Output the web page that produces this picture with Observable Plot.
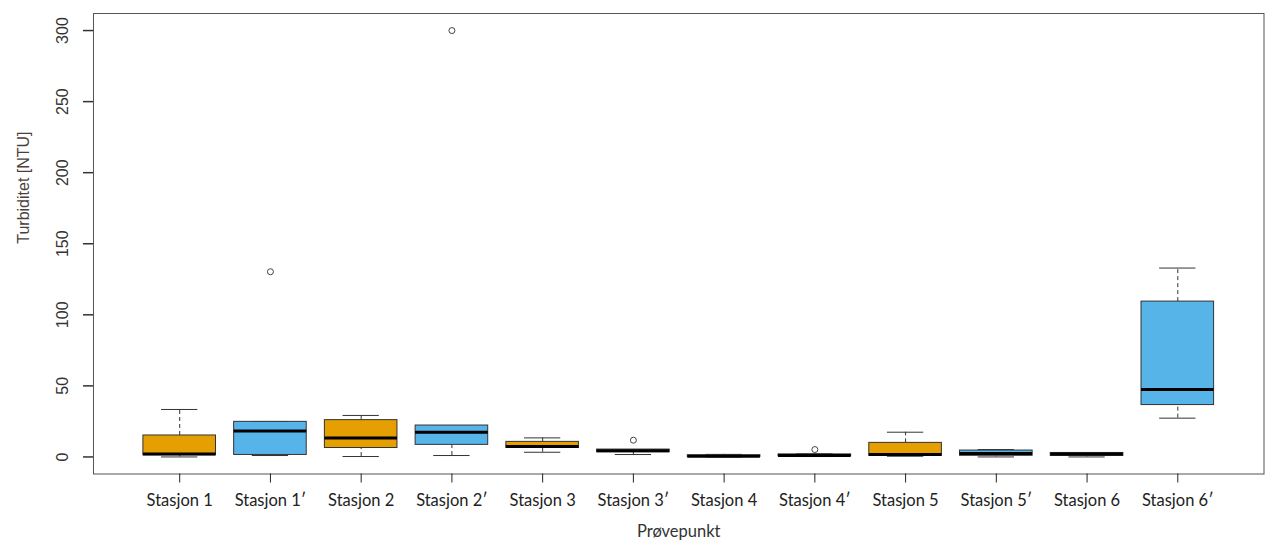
<!DOCTYPE html>
<html><head><meta charset="utf-8">
<script src="https://cdn.jsdelivr.net/npm/d3@7"></script>
<script src="https://cdn.jsdelivr.net/npm/@observablehq/plot@0.6"></script>
<style>body{margin:0;background:#fff}</style>
</head><body><div id="chart"></div>
<script>
const stations = ["Stasjon 1","Stasjon 1′","Stasjon 2","Stasjon 2′","Stasjon 3","Stasjon 3′","Stasjon 4","Stasjon 4′","Stasjon 5","Stasjon 5′","Stasjon 6","Stasjon 6′"];
const kinds    = ["uten","med","uten","med","uten","med","uten","med","uten","med","uten","med"];
const mins     = [0.0, 1.0, 0.3, 1.0, 3.3, 1.7, 0.0, 0.3, 0.5, 0.0, 0.0, 27.3];
const q1s      = [1.2, 1.4, 6.3, 8.5, 6.3, 3.3, 0.0, 0.5, 0.7, 0.8, 0.7, 36.5];
const medians  = [2.1, 18.3, 13.4, 17.4, 7.3, 4.3, 0.5, 1.0, 1.7, 2.5, 2.0, 47.5];
const q3s      = [15.1, 24.7, 25.9, 22.1, 10.6, 5.2, 1.2, 1.8, 9.9, 4.5, 2.8, 109.3];
const maxs     = [33.4, 24.7, 29.2, 22.1, 13.4, 5.2, 1.8, 2.2, 17.4, 5.2, 2.8, 132.9];
const outlierStations = ["Stasjon 1′","Stasjon 2′","Stasjon 3′","Stasjon 4′"];
const outlierValues   = [130.3, 300, 11.8, 5.2];
const yTicks = [0, 50, 100, 150, 200, 250, 300];

const boxes = stations.map((s, i) => ({station: s, kind: kinds[i], min: mins[i], q1: q1s[i], median: medians[i], q3: q3s[i], max: maxs[i]}));
const outliers = outlierStations.map((s, i) => ({station: s, value: outlierValues[i]}));

const W = 1268, H = 545, mL = 93, mR = 4.5;
const step = (W - mL - mR) / 12.9;
const capInset = step * 0.8 / 4;
const ink = "#333";

const chart = Plot.plot({
  width: W, height: H,
  marginLeft: mL, marginRight: mR, marginTop: 13, marginBottom: 71.5,
  style: {background: "#fff", fontFamily: "'Liberation Sans', Arial, sans-serif"},
  x: {domain: stations, paddingInner: 0.2, paddingOuter: 0.55, round: false, label: null},
  y: {domain: [-12, 312], label: null},
  color: {domain: ["uten", "med"], range: ["#E69F00", "#56B4E9"]},
  marks: [
    Plot.ruleX(boxes, {x: "station", y1: "q3", y2: "max", stroke: ink, strokeDasharray: "4,3"}),
    Plot.ruleX(boxes, {x: "station", y1: "min", y2: "q1", stroke: ink, strokeDasharray: "4,3"}),
    Plot.tickY(boxes, {x: "station", y: "max", insetLeft: capInset, insetRight: capInset, stroke: ink}),
    Plot.tickY(boxes, {x: "station", y: "min", insetLeft: capInset, insetRight: capInset, stroke: ink}),
    Plot.barY(boxes, {x: "station", y1: "q1", y2: "q3", fill: "kind", stroke: ink, strokeWidth: 1}),
    Plot.tickY(boxes, {x: "station", y: "median", stroke: "#000", strokeWidth: 3}),
    Plot.dot(outliers, {x: "station", y: "value", r: 3, stroke: "#444", fill: "none", strokeWidth: 1}),
    Plot.frame({stroke: "#555"}),
    Plot.ruleY(yTicks, {y: d => d, insetLeft: -10, insetRight: W - mL - mR, stroke: "#333", strokeWidth: 1.5}),
    Plot.axisY({ticks: yTicks, anchor: "left", tickSize: 0, tickPadding: 31, rotate: -90, textAnchor: "middle", fontSize: 16, color: ink}),
    Plot.axisX({tickSize: 9, tickPadding: 11, fontSize: 16.5, fontFamily: "Lato, 'Open Sans', sans-serif", color: "#222"}),
    Plot.text(["Turbiditet [NTU]"], {frameAnchor: "left", dx: -70, rotate: -90, fontSize: 16, fill: "#4a3f3a"}),
    Plot.text(["Prøvepunkt"], {frameAnchor: "bottom", dy: 63, fontSize: 16.5, fontFamily: "Lato, 'Open Sans', sans-serif", fill: "#333"})
  ]
});
document.getElementById("chart").appendChild(chart);
</script>
</body></html>
